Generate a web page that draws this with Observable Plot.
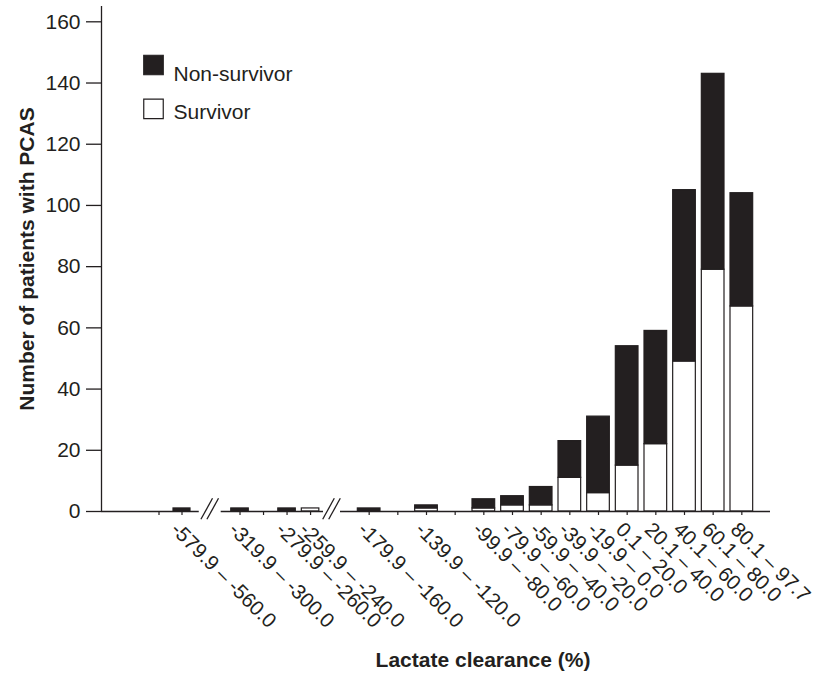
<!DOCTYPE html>
<html><head><meta charset="utf-8">
<script src="https://cdn.jsdelivr.net/npm/d3@7"></script>
<script src="https://cdn.jsdelivr.net/npm/@observablehq/plot@0.6"></script>
<style>body{margin:0;background:#fff;}</style>
</head><body><div id="chart"></div>
<script>
// ---- data ----
const binStart = [-600, -580, -320, -300, -280, -260, -180, -160, -140, -120, -100, -80, -60, -40, -20, 0, 20, 40, 60, 80];
const binLabels = ["", "-579.9 – -560.0", "-319.9 – -300.0", "", "-279.9 – -260.0", "-259.9 – -240.0",
  "-179.9 – -160.0", "", "-139.9 – -120.0", "", "-99.9 – -80.0", "-79.9 – -60.0", "-59.9 – -40.0",
  "-39.9 – -20.0", "-19.9 – 0.0", "0.1 – 20.0", "20.1 – 40.0", "40.1 – 60.0", "60.1 – 80.0", "80.1 – 97.7"];
const survivors    = [0, 0, 0, 0, 0, 1, 0, 0, 1, 0, 1, 2, 2, 11, 6, 15, 22, 49, 79, 67];
const nonSurvivors = [0, 1, 1, 0, 1, 0, 1, 0, 1, 0, 3, 3, 6, 12, 25, 39, 37, 56, 64, 37];
const yTicks = [0, 20, 40, 60, 80, 100, 120, 140, 160];
const seriesNames = ["Non-survivor", "Survivor"];
const xTitle = "Lactate clearance (%)";
const yTitle = "Number of patients with PCAS";

// ---- layout ----
const INK = "#231f20";
const FONT = "'Liberation Sans', Arial, Helvetica, sans-serif";
const binWidth = 20;
// piecewise (broken) x scale
const xDomain = [-640, -555, -326, -239, -190, 110];
const xRange  = [101, 198.75, 220.7, 323, 340, 770];
const axisSegments = [[xDomain[0], xDomain[1]], [xDomain[2], xDomain[3]], [xDomain[4], xDomain[5]]];

const bins = binStart.map((lo, i) => ({
  lo, hi: lo + binWidth, mid: lo + binWidth / 2, label: binLabels[i],
  s: survivors[i], n: nonSurvivors[i]
}));

function breakMarks(index, scales) {
  const g = d3.create("svg:g");
  const y0 = scales.y(0);
  for (let k = 0; k < 2; k++) {
    const a = scales.x(xDomain[1 + 2 * k]), b = scales.x(xDomain[2 + 2 * k]);
    const c = (a + b) / 2;
    for (const off of [-3, 3]) {
      g.append("line")
        .attr("x1", c + off - 5.8).attr("y1", y0 + 8.3)
        .attr("x2", c + off + 5.8).attr("y2", y0 - 12.7)
        .attr("stroke", INK).attr("stroke-width", 1.3);
    }
  }
  return g.node();
}

const chart = Plot.plot({
  width: 825,
  height: 680,
  marginLeft: 101,
  marginRight: 55,
  marginTop: 6,
  marginBottom: 169,
  style: {fontFamily: FONT, fontSize: "21px", color: INK, background: "white", overflow: "visible"},
  x: {type: "linear", domain: xDomain, range: xRange},
  y: {domain: [0, 165]},
  marks: [
    // bars
    Plot.rect(bins.filter(d => d.s > 0), {
      x1: "lo", x2: "hi", y1: 0, y2: "s", insetLeft: 3, insetRight: 3,
      fill: "white", stroke: INK, strokeWidth: 1.2
    }),
    Plot.rect(bins.filter(d => d.n > 0), {
      x1: "lo", x2: "hi", y1: "s", y2: d => d.s + d.n, insetLeft: 3, insetRight: 3,
      fill: INK, stroke: INK, strokeWidth: 1.2
    }),
    // axes
    Plot.ruleX([xDomain[0]], {stroke: INK, strokeWidth: 1.3}),
    Plot.ruleY(axisSegments, {y: 0, x1: d => d[0], x2: d => d[1], stroke: INK, strokeWidth: 1.3}),
    Plot.axisY({ticks: yTicks, tickSize: 15, tickPadding: 6, label: null, stroke: INK, strokeWidth: 1.3, fill: INK, fontSize: 21}),
    Plot.axisX({ticks: bins.map(d => d.mid), tickSize: 4, tickFormat: () => "", label: null, stroke: INK, strokeWidth: 1.2}),
    breakMarks,
    // rotated tick labels
    Plot.text(bins.filter(d => d.label), {
      x: "mid", y: 0, text: "label", rotate: 45, textAnchor: "start", lineAnchor: "top",
      dx: -2, dy: 9, fontSize: 20.5, fill: INK
    }),
    // titles
    Plot.text([xTitle], {frameAnchor: "bottom", textAnchor: "middle", dx: 47, dy: 155.6, fontSize: 21, fontWeight: "bold", fill: INK}),
    Plot.text([yTitle], {frameAnchor: "left", textAnchor: "middle", dx: -74.7, rotate: -90, fontSize: 21, fontWeight: "bold", fill: INK}),
    // legend
    Plot.dot([seriesNames[0]], {frameAnchor: "top-left", dx: 52, dy: 58.5, symbol: "square", r: 11, fill: INK, stroke: INK, strokeWidth: 1.2}),
    Plot.dot([seriesNames[1]], {frameAnchor: "top-left", dx: 52, dy: 102.3, symbol: "square", r: 11, fill: "white", stroke: INK, strokeWidth: 1.2}),
    Plot.text([seriesNames[0]], {frameAnchor: "top-left", dx: 72, dy: 60, textAnchor: "start", fontSize: 21, fill: INK}),
    Plot.text([seriesNames[1]], {frameAnchor: "top-left", dx: 72, dy: 97.7, textAnchor: "start", fontSize: 21, fill: INK})
  ]
});
document.getElementById("chart").append(chart);
</script>
</body></html>
